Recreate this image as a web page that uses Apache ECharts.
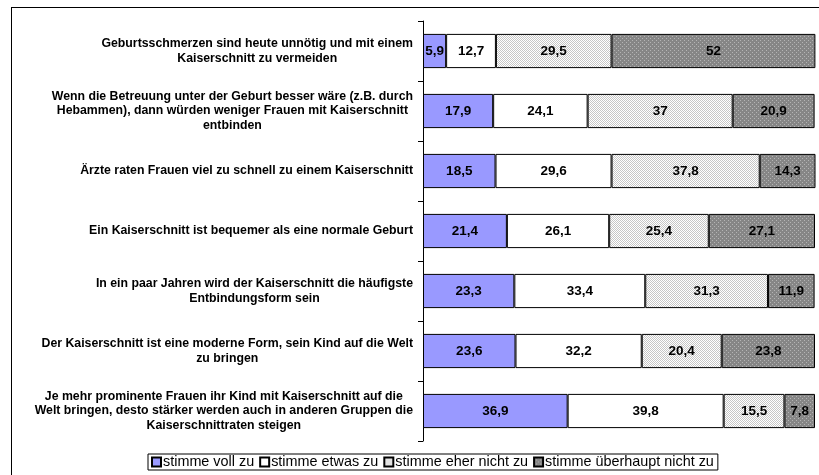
<!DOCTYPE html>
<html>
<head>
<meta charset="utf-8">
<script src="https://cdn.jsdelivr.net/npm/echarts@6/dist/echarts.min.js"></script>
<style>
  html,body{margin:0;padding:0;background:#fff}
  #frame{position:absolute;left:11px;top:7px;width:900px;height:600px;border:1px solid #000;border-right:0;border-bottom:0}
  #chart{position:absolute;left:0;top:0;width:819px;height:475px}
</style>
</head>
<body>
<div id="frame"></div>
<div id="chart"></div>
<script>
const categories = [
  "Geburtsschmerzen sind heute unnötig und mit einem\nKaiserschnitt zu vermeiden",
  "Wenn die Betreuung unter der Geburt besser wäre (z.B. durch\nHebammen), dann würden weniger Frauen mit Kaiserschnitt\nentbinden",
  "Ärzte raten Frauen viel zu schnell zu einem Kaiserschnitt",
  "Ein Kaiserschnitt ist bequemer als eine normale Geburt",
  "In ein paar Jahren wird der Kaiserschnitt die häufigste\nEntbindungsform sein",
  "Der Kaiserschnitt ist eine moderne Form, sein Kind auf die Welt\nzu bringen",
  "Je mehr prominente Frauen ihr Kind mit Kaiserschnitt auf die\nWelt bringen, desto stärker werden auch in anderen Gruppen die\nKaiserschnittraten steigen"
]
const seriesNames = ["stimme voll zu", "stimme etwas zu", "stimme eher nicht zu", "stimme überhaupt nicht zu"]
const volleZu = [5.9, 17.9, 18.5, 21.4, 23.3, 23.6, 36.9]
const etwasZu = [12.7, 24.1, 29.6, 26.1, 33.4, 32.2, 39.8]
const eherNicht = [29.5, 37, 37.8, 25.4, 31.3, 20.4, 15.5]
const garNicht = [52, 20.9, 14.3, 27.1, 11.9, 23.8, 7.8]

// small dotted fill patterns like the excel hatch
function pattern(size, base, dot, dots) {
  const c = document.createElement("canvas")
  c.width = size; c.height = size
  const g = c.getContext("2d")
  g.fillStyle = base; g.fillRect(0, 0, size, size)
  g.fillStyle = dot
  dots.forEach(d => g.fillRect(d[0], d[1], 1, 1))
  return { image: c, repeat: "repeat" }
}
const lightFill = pattern(2, "#ffffff", "#c6c6c6", [[0,0],[1,1]])
const darkFill = pattern(4, "#868686", "#b4b4b4", [[0,0],[2,2]])
const fills = ["#9999ff", "#ffffff", lightFill, darkFill]
const values = [volleZu, etwasZu, eherNicht, garNicht]

const font = "'Liberation Sans', Arial, sans-serif"
const chart = echarts.init(document.getElementById("chart"))
chart.setOption({
  animation: false,
  grid: { left: 423, right: 4, top: 21, bottom: 34 },
  legend: {
    bottom: 5, left: 148,
    data: seriesNames,
    itemWidth: 9, itemHeight: 9, itemGap: 5,
    padding: [1, 4, 1, 3],
    borderColor: "#000", borderWidth: 1,
    textStyle: { fontFamily: font, fontSize: 14.4, color: "#000", padding: [0, 0, 0, -3] },
    icon: "rect"
  },
  xAxis: { type: "value", min: 0, max: 100, show: false },
  yAxis: {
    type: "category", inverse: true, data: categories,
    axisLine: { show: true, lineStyle: { color: "#000", width: 1 } },
    axisTick: { show: true, length: 5, lineStyle: { color: "#000" } },
    axisLabel: {
      margin: 10, align: "right",
      formatter: v => v.split("\n").map(l => "{c|" + l + "}").join("\n"),
      rich: { c: { align: "center", fontFamily: font, fontWeight: "bold", fontSize: 12.3, lineHeight: 14.5, color: "#000" } }
    }
  },
  series: seriesNames.map((name, i) => ({
    name, type: "bar", stack: "all", data: values[i],
    barCategoryGap: "43%",
    itemStyle: { color: fills[i], borderColor: "#000", borderWidth: 1 },
    label: {
      show: true, position: "inside", color: "#000",
      fontFamily: font, fontWeight: "bold", fontSize: 13.5,
      formatter: p => String(p.value).replace(".", ",")
    }
  }))
})
</script>
</body>
</html>
